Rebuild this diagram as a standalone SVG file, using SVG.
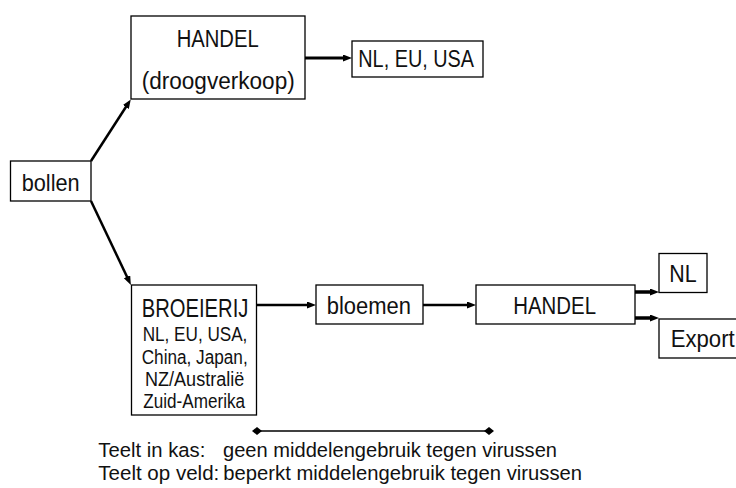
<svg xmlns="http://www.w3.org/2000/svg" width="736" height="488" viewBox="0 0 736 488">
<style>
  .box { fill: #fff; stroke: #000; stroke-width: 1.3; }
  .t { font-family: "Liberation Sans", Arial, sans-serif; fill: #111; }
  .m { font-size: 23px; }
  .s { font-size: 20.5px; }
  .l { font-size: 20px; }
  .c { stroke: #000; fill: none; }
</style>
<defs>
  <marker id="ah" markerUnits="userSpaceOnUse" markerWidth="10" markerHeight="8" refX="3" refY="3.5" orient="auto">
    <path d="M0,0 L9,3.5 L0,7 Z" fill="#000"/>
  </marker>
  <marker id="dm" markerUnits="userSpaceOnUse" markerWidth="10" markerHeight="10" refX="5" refY="4" orient="auto">
    <path d="M0,4 L5,0 L10,4 L5,8 Z" fill="#000"/>
  </marker>
</defs>
<rect width="736" height="488" fill="#fff"/>

<g id="connectors">
  <line class="c" x1="91" y1="161" x2="127.5" y2="104.5" stroke-width="2.5" marker-end="url(#ah)"/>
  <line class="c" x1="91" y1="201" x2="128.3" y2="279.5" stroke-width="2.5" marker-end="url(#ah)"/>
  <line class="c" x1="305" y1="58" x2="346" y2="58" stroke-width="3" marker-end="url(#ah)"/>
  <line class="c" x1="257" y1="305" x2="310" y2="305" stroke-width="2.5" marker-end="url(#ah)"/>
  <line class="c" x1="423" y1="305" x2="470" y2="305" stroke-width="2.5" marker-end="url(#ah)"/>
  <line class="c" x1="635" y1="292" x2="653" y2="292" stroke-width="3.5" marker-end="url(#ah)"/>
  <line class="c" x1="635" y1="318" x2="653" y2="318" stroke-width="3.5" marker-end="url(#ah)"/>
  <line class="c" x1="257" y1="431" x2="489" y2="431" stroke-width="1.3" marker-start="url(#dm)" marker-end="url(#dm)"/>
</g>

<g id="handel-droog">
  <rect class="box" x="131" y="16" width="174" height="83"/>
  <text class="t m" x="176.7" y="47" textLength="82" lengthAdjust="spacingAndGlyphs">HANDEL</text>
  <text class="t m" x="141.7" y="89" textLength="153" lengthAdjust="spacingAndGlyphs">(droogverkoop)</text>
</g>

<g id="nl-eu-usa">
  <rect class="box" x="352" y="41" width="131" height="36"/>
  <text class="t" font-size="24" x="358.3" y="67" textLength="115.7" lengthAdjust="spacingAndGlyphs">NL, EU, USA</text>
</g>

<g id="bollen">
  <rect class="box" x="10.5" y="161" width="80.5" height="40"/>
  <text class="t" font-size="24" x="21.7" y="191" textLength="58" lengthAdjust="spacingAndGlyphs">bollen</text>
</g>

<g id="broeierij">
  <rect class="box" x="131.5" y="285" width="125" height="130"/>
  <text class="t" font-size="26" x="141.7" y="317" textLength="106.7" lengthAdjust="spacingAndGlyphs">BROEIERIJ</text>
  <text class="t l" x="142.7" y="341" textLength="104.7" lengthAdjust="spacingAndGlyphs">NL, EU, USA,</text>
  <text class="t l" x="141.7" y="363.5" textLength="106" lengthAdjust="spacingAndGlyphs">China, Japan,</text>
  <text class="t l" x="145" y="385.5" textLength="99.3" lengthAdjust="spacingAndGlyphs">NZ/Australië</text>
  <text class="t l" x="143.3" y="408" textLength="101.7" lengthAdjust="spacingAndGlyphs">Zuid-Amerika</text>
</g>

<g id="bloemen">
  <rect class="box" x="316" y="285" width="107" height="39"/>
  <text class="t m" x="326.7" y="313.5" textLength="84.3" lengthAdjust="spacingAndGlyphs">bloemen</text>
</g>

<g id="handel-bloemen">
  <rect class="box" x="476" y="285" width="159" height="39"/>
  <text class="t m" x="513.3" y="313.5" textLength="82.7" lengthAdjust="spacingAndGlyphs">HANDEL</text>
</g>

<g id="nl">
  <rect class="box" x="659" y="253.5" width="48" height="39"/>
  <text class="t m" x="669.3" y="282" textLength="27.4" lengthAdjust="spacingAndGlyphs">NL</text>
</g>

<g id="export">
  <rect class="box" x="659" y="319" width="90" height="39"/>
  <text class="t m" x="670.7" y="347" textLength="64" lengthAdjust="spacingAndGlyphs">Export</text>
</g>

<g id="legend">
  <text class="t s" x="98.3" y="457" textLength="107" lengthAdjust="spacingAndGlyphs">Teelt in kas:</text>
  <text class="t s" x="223" y="457" textLength="334" lengthAdjust="spacingAndGlyphs">geen middelengebruik tegen virussen</text>
  <text class="t s" x="98.3" y="479.5" textLength="121" lengthAdjust="spacingAndGlyphs">Teelt op veld:</text>
  <text class="t s" x="223.3" y="479.5" textLength="358.7" lengthAdjust="spacingAndGlyphs">beperkt middelengebruik tegen virussen</text>
</g>
</svg>
